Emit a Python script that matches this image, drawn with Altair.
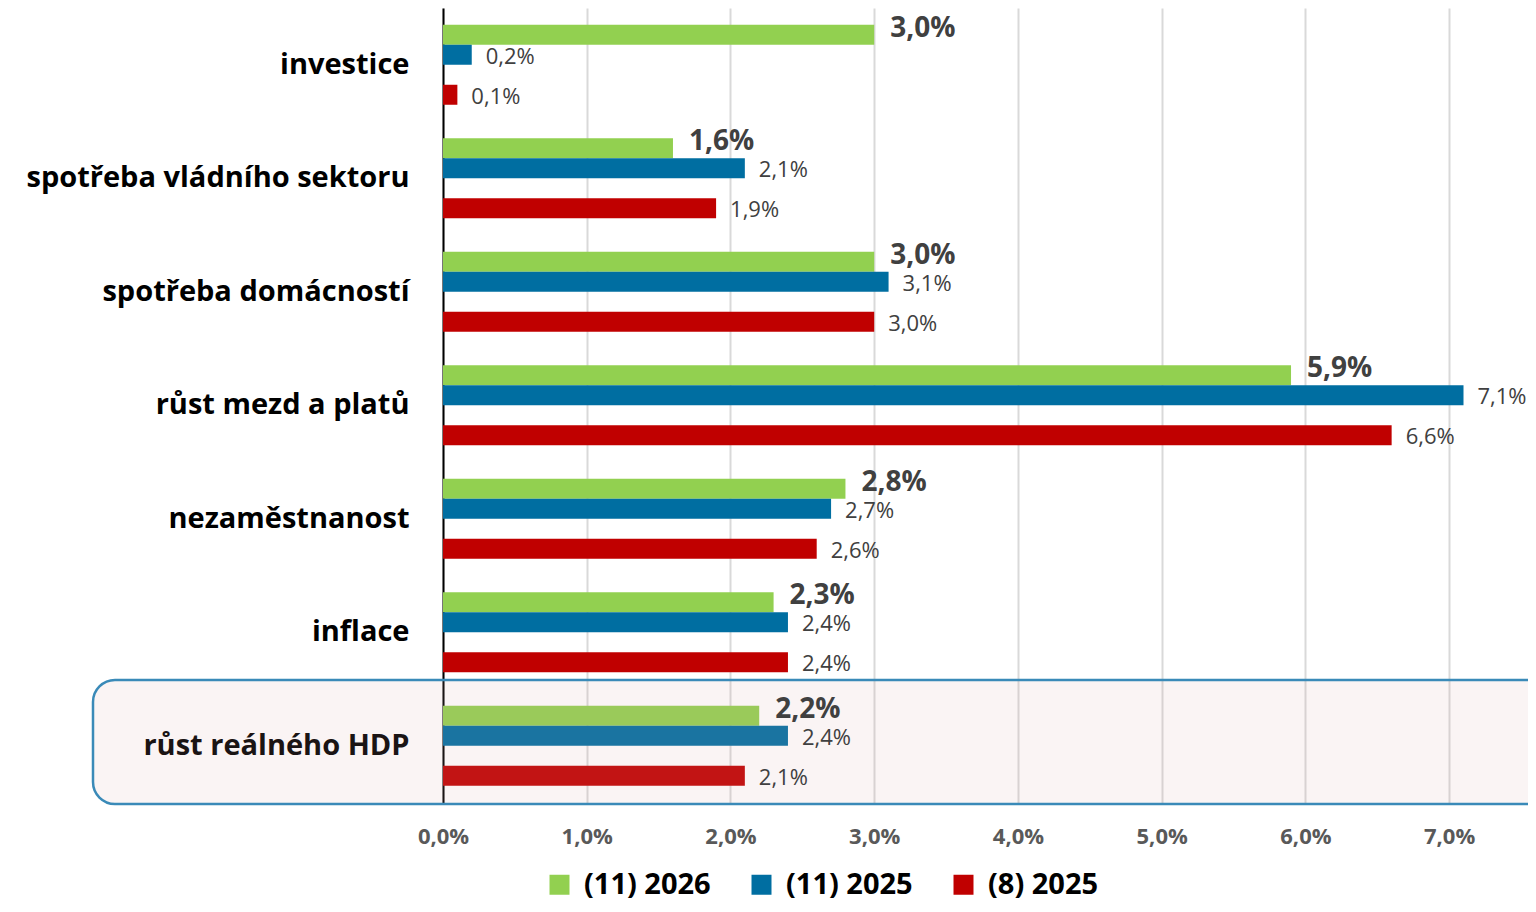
import altair as alt
import pandas as pd

categories = ["investice", "spotřeba vládního sektoru", "spotřeba domácností",
              "růst mezd a platů", "nezaměstnanost", "inflace", "růst reálného HDP"]
series = ["(11) 2026", "(11) 2025", "(8) 2025"]
v_11_2026 = [3.0, 1.6, 3.0, 5.9, 2.8, 2.3, 2.2]
v_11_2025 = [0.2, 2.1, 3.1, 7.1, 2.7, 2.4, 2.4]
v_8_2025 = [0.1, 1.9, 3.0, 6.6, 2.6, 2.4, 2.1]
colors = ["#92D050", "#006EA1", "#C00000"]
slots = ["s0", "s1", "s2", "s3"]          # s2 stays empty (gap before the red bar)
series_slot = ["s0", "s1", "s3"]
x_ticks = [0, 1, 2, 3, 4, 5, 6, 7]

rows = []
for s, slot, vals in zip(series, series_slot, [v_11_2026, v_11_2025, v_8_2025]):
    for c, v in zip(categories, vals):
        rows.append({"category": c, "series": s, "slot": slot, "value": v})
df = pd.DataFrame(rows)

W = 1078
H = 794.5
FONT = "Open Sans"
fmt = "replace(format(datum.value, '.1f'), '.', ',') + '%'"

y_enc = alt.Y("category:N", sort=categories,
              scale=alt.Scale(paddingInner=0.295, paddingOuter=0.1475),
              axis=alt.Axis(title=None, ticks=False, labelPadding=34, labelFont=FONT,
                            labelFontSize=29, labelFontWeight="bold", labelColor="#000000",
                            domainColor="#000000", domainWidth=2, grid=False, labelLimit=700))
yoff = alt.YOffset("slot:N", scale=alt.Scale(domain=slots, paddingInner=0, paddingOuter=0))
x_enc = alt.X("value:Q", scale=alt.Scale(domain=[0, 7.5], nice=False),
              axis=alt.Axis(title=None, values=x_ticks, labelExpr=fmt, grid=True,
                            gridColor="#D9D9D9", gridWidth=2, domain=False, ticks=False,
                            labelFlush=False, labelPadding=24, labelFont=FONT,
                            labelFontSize=22, labelFontWeight="bold", labelColor="#595959"))

base = alt.Chart(df).transform_calculate(label=fmt)

bars = base.mark_bar().encode(
    x=x_enc, y=y_enc, yOffset=yoff,
    color=alt.Color("series:N", scale=alt.Scale(domain=series, range=colors),
                    legend=alt.Legend(title=None, orient="none", legendX=102, legendY=862,
                                      direction="horizontal", symbolType="square",
                                      symbolSize=400, symbolStrokeWidth=0, labelFont=FONT,
                                      labelFontSize=29, labelFontWeight="bold",
                                      labelColor="#000000", labelOffset=10,
                                      columnPadding=36)),
)

box = alt.Chart(pd.DataFrame({"k": [0]})).mark_rect(
    cornerRadius=22, fill="#D5A3A3", fillOpacity=0.12, stroke="#3A8AB8", strokeWidth=2.5
).encode(x=alt.value(-350), x2=alt.value(1120), y=alt.value(672), y2=alt.value(796))

txt_main = base.transform_filter(alt.datum.series == series[0]).mark_text(
    align="left", baseline="middle", dx=16, dy=-6, font=FONT, fontSize=28,
    fontWeight="bold", color="#404040"
).encode(x="value:Q", y=alt.Y("category:N", sort=categories), yOffset="slot:N", text="label:N")

txt_other = base.transform_filter(alt.datum.series != series[0]).mark_text(
    align="left", baseline="middle", dx=14, dy=2, font=FONT, fontSize=22, color="#404040"
).encode(x="value:Q", y=alt.Y("category:N", sort=categories), yOffset="slot:N", text="label:N")

chart = alt.layer(bars, box, txt_main, txt_other).properties(
    width=W, height=H,
    autosize=alt.AutoSizeParams(type="none"),
    padding={"left": 435, "top": 0, "right": 7, "bottom": 101},
    background="white",
).configure_view(stroke=None)

chart.save("out.html", embed_options={"renderer": "svg", "actions": False})
